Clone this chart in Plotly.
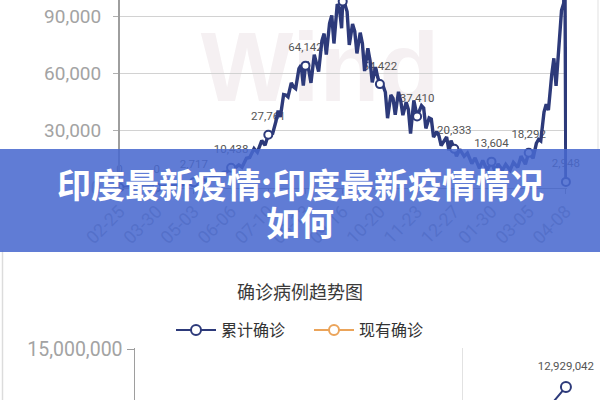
import plotly.graph_objects as go

# ---------------- data ----------------
# top chart: daily new confirmed cases (sampled points read from the picture)
new_dates = [
    "2020-02-25", "2020-03-03", "2020-03-10", "2020-03-17", "2020-03-23", "2020-03-27", "2020-03-30",
    "2020-04-02", "2020-04-06", "2020-04-10", "2020-04-14", "2020-04-18", "2020-04-22", "2020-04-26",
    "2020-04-30", "2020-05-03", "2020-05-06", "2020-05-10", "2020-05-14", "2020-05-18", "2020-05-22",
    "2020-05-26", "2020-05-30", "2020-06-02", "2020-06-06", "2020-06-09", "2020-06-13", "2020-06-16",
    "2020-06-20", "2020-06-23", "2020-06-27", "2020-06-30", "2020-07-04", "2020-07-07", "2020-07-10",
    "2020-07-14", "2020-07-17", "2020-07-19", "2020-07-21", "2020-07-24", "2020-07-26", "2020-07-28",
    "2020-07-31", "2020-08-02", "2020-08-04", "2020-08-07", "2020-08-09", "2020-08-11", "2020-08-13",
    "2020-08-15", "2020-08-18", "2020-08-21", "2020-08-25", "2020-08-28", "2020-08-30", "2020-09-01",
    "2020-09-04", "2020-09-06", "2020-09-08", "2020-09-11", "2020-09-13", "2020-09-15", "2020-09-16",
    "2020-09-18", "2020-09-20", "2020-09-22", "2020-09-25", "2020-09-27", "2020-09-29", "2020-10-02",
    "2020-10-04", "2020-10-06", "2020-10-09", "2020-10-11", "2020-10-13", "2020-10-16", "2020-10-18",
    "2020-10-20", "2020-10-23", "2020-10-25", "2020-10-27", "2020-10-30", "2020-11-01", "2020-11-03",
    "2020-11-06", "2020-11-08", "2020-11-10", "2020-11-13", "2020-11-15", "2020-11-17", "2020-11-20",
    "2020-11-23", "2020-11-27", "2020-11-29", "2020-12-01", "2020-12-04", "2020-12-06", "2020-12-08",
    "2020-12-11", "2020-12-13", "2020-12-15", "2020-12-18", "2020-12-20", "2020-12-22", "2020-12-24",
    "2020-12-27", "2020-12-29", "2021-01-01", "2021-01-05", "2021-01-08", "2021-01-12", "2021-01-15",
    "2021-01-19", "2021-01-22", "2021-01-26", "2021-01-30", "2021-02-02", "2021-02-05", "2021-02-09",
    "2021-02-12", "2021-02-16", "2021-02-19", "2021-02-23", "2021-02-26", "2021-03-02", "2021-03-05",
    "2021-03-09", "2021-03-12", "2021-03-14", "2021-03-16", "2021-03-19", "2021-03-21", "2021-03-23",
    "2021-03-26", "2021-03-28", "2021-03-30", "2021-04-02", "2021-04-04", "2021-04-06", "2021-04-07",
    "2021-04-08",
]
new_cases = [
    0, 3, 12, 22, 99, 149, 0,
    437, 693, 896, 1463, 1371, 1486, 1975,
    1823, 2717, 3561, 4213, 3722, 5242, 6088,
    6535, 7964, 8171, 10438, 9985, 11929, 10667,
    15413, 15800, 20500, 18522, 24700, 22252, 27761,
    28498, 34884, 40425, 37148, 48916, 48661, 47703,
    55079, 52972, 52050, 62538, 64399, 53601, 64142,
    65002, 55079, 69878, 60975, 77266, 81000, 69921,
    86432, 90632, 75809, 96551, 94372, 83809, 97894,
    96424, 92605, 75083, 86052, 82170, 70589, 81484,
    75829, 61267, 73272, 66732, 55342, 63371, 58000,
    54422, 53370, 50129, 36469, 48648, 46963, 38310,
    50356, 45674, 38073, 44879, 41100, 28400, 45882,
    37410, 43082, 41810, 31118, 36594, 36011, 26567,
    29398, 27071, 22065, 25152, 26624, 19556, 24712,
    20333, 16432, 20035, 16375, 18139, 12584, 15590,
    10064, 14256, 9102, 13604, 8635, 12408, 9110,
    12143, 9121, 13193, 10584, 16488, 12286, 18292,
    15388, 23285, 25320, 24492, 39726, 43846, 40715,
    59118, 68020, 53480, 81466, 93249, 96982, 126789,
    2948,
]
label_dates = [
    "2020-02-25", "2020-03-30", "2020-05-03", "2020-06-06", "2020-07-10", "2020-08-13", "2020-09-16",
    "2020-10-20", "2020-11-23", "2020-12-27", "2021-01-30", "2021-03-05", "2021-04-08",
]
tick_labels = ["02-25", "03-30", "05-03", "06-06", "07-10", "08-13", "09-16",
               "10-20", "11-23", "12-27", "01-30", "03-05", "04-08"]
y_ticks_top = [0, 30000, 60000, 90000]

# bottom chart: cumulative confirmed / active cases
cum_dates = ["2020-02-25", "2020-03-30", "2020-05-03", "2020-06-06", "2020-07-10", "2020-08-13",
             "2020-09-16", "2020-10-20", "2020-11-23", "2020-12-27", "2021-01-30", "2021-03-05",
             "2021-03-17", "2021-04-08"]
cum_values = [3, 1251, 42533, 246628, 820916, 2461190, 5118253, 7597063, 9177840, 10207871,
              10746174, 11173761, 11438474, 12929042]
cum_label_dates = ["2021-03-17", "2021-04-08"]
active_values = [0, 1100, 29453, 120406, 283407, 653622, 1009976, 740090, 443486, 278690,
                 163353, 176319, 228569, 910319]
y_ticks_bottom = [12000000, 15000000]

# ---------------- styling ----------------
NAVY = "#2d3a7a"
ORANGE = "#eba45a"
GRAY_TXT = "#a3a3a3"
NUM_FONT = "Roboto, 'Noto Sans CJK SC', sans-serif"
CJK_FONT = "'Noto Sans CJK SC', Roboto, sans-serif"
LABEL_FONT = dict(size=11.5, color="#555555", family=NUM_FONT)

fig = go.Figure()

# top chart: data labels first so the line runs over them
lab_y = [new_cases[new_dates.index(d)] for d in label_dates]
fig.add_trace(go.Scatter(
    x=label_dates, y=lab_y, mode="markers+text", text=[f"{v:,}" for v in lab_y],
    textposition="top center", textfont=LABEL_FONT,
    marker=dict(size=17, opacity=0), cliponaxis=False, showlegend=False, hoverinfo="skip",
    xaxis="x", yaxis="y"))
fig.add_trace(go.Scatter(
    x=new_dates, y=new_cases, mode="lines", line=dict(color=NAVY, width=3.4),
    showlegend=False, hoverinfo="skip", xaxis="x", yaxis="y"))
fig.add_trace(go.Scatter(
    x=label_dates, y=lab_y, mode="markers",
    marker=dict(symbol="circle", size=8, color="white", line=dict(color=NAVY, width=2)),
    cliponaxis=False, showlegend=False, hoverinfo="skip", xaxis="x", yaxis="y"))

# bottom chart: one label trace per labelled point (the last one may spill past the plot edge)
for i, d in enumerate(cum_label_dates):
    v = cum_values[cum_dates.index(d)]
    fig.add_trace(go.Scatter(
        x=[d], y=[v], mode="markers+text", text=[f"{v:,}"],
        textposition="top center", textfont=LABEL_FONT,
        marker=dict(size=21, opacity=0), cliponaxis=(i < len(cum_label_dates) - 1),
        showlegend=False, hoverinfo="skip", xaxis="x2", yaxis="y2"))
fig.add_trace(go.Scatter(
    x=cum_dates, y=cum_values, mode="lines+markers", name="累计确诊",
    line=dict(color=NAVY, width=2),
    marker=dict(symbol="circle", size=10, color="white", line=dict(color=NAVY, width=2)),
    cliponaxis=False, hoverinfo="skip", xaxis="x2", yaxis="y2"))
fig.add_trace(go.Scatter(
    x=cum_dates, y=active_values, mode="lines+markers", name="现有确诊",
    line=dict(color=ORANGE, width=2),
    marker=dict(symbol="circle", size=10, color="white", line=dict(color=ORANGE, width=2)),
    hoverinfo="skip", xaxis="x2", yaxis="y2"))

W, H = 600, 400
px = lambda v: v / W
py = lambda v: 1 - v / H

fig.update_layout(
    template="none",
    width=W, height=H, autosize=False,
    margin=dict(l=0, r=0, t=0, b=0, pad=0, autoexpand=False),
    paper_bgcolor="white", plot_bgcolor="rgba(0,0,0,0)",
    hovermode=False,
    font=dict(family=NUM_FONT, color="#333333"),
    xaxis=dict(
        domain=[px(119.5), px(567)], range=["2020-02-25", "2021-04-09"], type="date",
        anchor="y", tickvals=label_dates, ticktext=tick_labels, tickangle=-45, automargin=False,
        ticks="outside", ticklen=5, tickcolor="#9e9e9e", showline=True, linecolor="#9e9e9e",
        linewidth=1.5, showgrid=False, zeroline=False,
        tickfont=dict(size=18, color=GRAY_TXT, family=NUM_FONT)),
    yaxis=dict(
        domain=[py(187.5), 1], range=[0, 98700], anchor="x", automargin=False,
        tickvals=y_ticks_top, tickformat=",d", ticks="outside", ticklen=5, tickcolor="#b0b0b0",
        showline=True, linecolor="#9e9e9e", linewidth=1.5,
        showgrid=True, gridcolor="#d2d2d2", gridwidth=1.5, zeroline=False,
        ticklabelstandoff=8,
        tickfont=dict(size=19, color=GRAY_TXT, family=NUM_FONT)),
    xaxis2=dict(
        domain=[px(135), px(567)], range=["2020-02-25", "2021-04-09"], type="date",
        anchor="y2", tickvals=["2020-12-31"], showticklabels=False, ticks="", automargin=False,
        showline=False, showgrid=True, gridcolor="#e2e2e2", gridwidth=1, zeroline=False),
    yaxis2=dict(
        domain=[0, py(348)], range=[12218000, 15054500], anchor="x2", automargin=False,
        tickvals=y_ticks_bottom, tickformat=",d", ticks="outside", ticklen=7, tickcolor="#9e9e9e",
        showline=True, linecolor="#9e9e9e", linewidth=1.5,
        showgrid=True, gridcolor="#cfcfcf", gridwidth=1.5, zeroline=False,
        ticklabelstandoff=0,
        tickfont=dict(size=19.5, color=GRAY_TXT, family=NUM_FONT)),
    legend=dict(
        orientation="h", x=0.515, xanchor="center", y=py(330), yanchor="middle",
        font=dict(size=16, color="#333333", family=CJK_FONT), itemwidth=40, entrywidth=83,
        bgcolor="rgba(0,0,0,0)", traceorder="normal"),
    shapes=[
        # watermark
        dict(type="rect", xref="paper", yref="paper", x0=px(195), x1=px(445), y0=py(98), y1=py(18),
             line=dict(width=0), fillcolor="rgba(0,0,0,0)", layer="below",
             label=dict(text="Wind", textposition="middle center",
                        font=dict(size=98, color="#f5f0f2", family="Liberation Sans", weight="bold"))),
        # card borders
        dict(type="line", xref="paper", yref="paper", x0=px(2.5), x1=px(2.5), y0=0, y1=py(250),
             line=dict(color="#dcdcdc", width=1.5), layer="above"),
        dict(type="line", xref="paper", yref="paper", x0=px(598), x1=px(598), y0=py(150), y1=1,
             line=dict(color="#e6e6e6", width=1.2), layer="above"),
        # title banner
        dict(type="rect", xref="paper", yref="paper", x0=0, x1=1, y0=py(252), y1=py(149),
             line=dict(width=0), fillcolor="rgba(72,105,207,0.87)", layer="above"),
    ],
    annotations=[
        dict(xref="paper", yref="paper", x=0.5, y=py(183), showarrow=False,
             text="<b>印度最新疫情:印度最新疫情情况</b>", xanchor="center", yanchor="middle",
             font=dict(size=34, color="white", family=CJK_FONT)),
        dict(xref="paper", yref="paper", x=0.5, y=py(221), showarrow=False,
             text="<b>如何</b>", xanchor="center", yanchor="middle",
             font=dict(size=34, color="white", family=CJK_FONT)),
        dict(xref="paper", yref="paper", x=0.5, y=py(291), showarrow=False,
             text="确诊病例趋势图", xanchor="center", yanchor="middle",
             font=dict(size=18, color="#3a3a3a", family=CJK_FONT)),
    ],
)

fig.write_html(
    "out.html",
    config={"displayModeBar": False, "staticPlot": True},
    post_script="document.body.style.margin='0';document.body.style.padding='0';",
)
